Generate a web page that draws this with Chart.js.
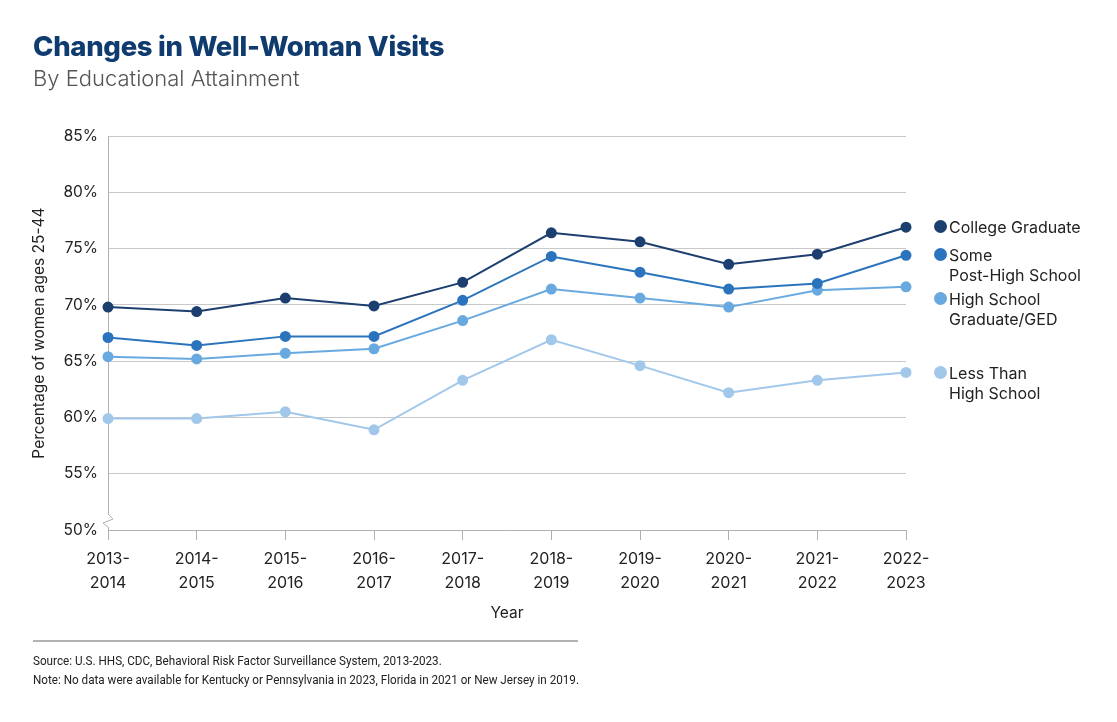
<!DOCTYPE html>
<html>
<head>
<meta charset="utf-8">
<script src="https://cdn.jsdelivr.net/npm/chart.js@4.4.1/dist/chart.umd.min.js"></script>
<style>
  body { margin: 0; background: #fff; font-family: Inter, "Noto Sans", sans-serif; }
  #wrap { position: relative; width: 1117px; height: 722px; overflow: hidden; }
  #chart { position: absolute; left: 0; top: 0; }
  .title { position: absolute; left: 33px; top: 29px; font-size: 27.5px; font-weight: 800; color: #0f3b6f; letter-spacing: -0.3px; }
  .subtitle { position: absolute; left: 33px; top: 65px; font-size: 22px; font-weight: 300; color: #555; }
  .legend { position: absolute; left: 934px; font-size: 16px; color: #222; line-height: 20px; }
  .legend .dot { position: absolute; left: 0; top: 3px; width: 13px; height: 13px; border-radius: 50%; }
  .legend .txt { margin-left: 15px; }
  .rule { position: absolute; left: 33px; top: 640px; width: 545px; height: 2px; background: #b3b3b3; }
  .note { position: absolute; left: 33px; font-family: Roboto, sans-serif; font-size: 13.5px; color: #222; white-space: nowrap;
          transform: scaleX(0.865); transform-origin: left center; }
</style>
</head>
<body>
<div id="wrap">
  <canvas id="chart" width="1117" height="722"></canvas>
  <div class="title">Changes in Well-Woman Visits</div>
  <div class="subtitle">By Educational Attainment</div>
  <div id="legend"></div>
  <div class="rule"></div>
  <div class="note" style="top:652px">Source: U.S. HHS, CDC, Behavioral Risk Factor Surveillance System, 2013-2023.</div>
  <div class="note" style="top:671px">Note: No data were available for Kentucky or Pennsylvania in 2023, Florida in 2021 or New Jersey in 2019.</div>
</div>
<script>
const years = ['2013-2014', '2014-2015', '2015-2016', '2016-2017', '2017-2018',
               '2018-2019', '2019-2020', '2020-2021', '2021-2022', '2022-2023']

const seriesNames = ['College Graduate', 'Some\nPost-High School', 'High School\nGraduate/GED', 'Less Than\nHigh School']
const seriesColors = ['#1c3f70', '#2b74bd', '#68a9df', '#a1c8eb']

const collegeGrad = [69.8, 69.4, 70.6, 69.9, 72.0, 76.4, 75.6, 73.6, 74.5, 76.9]
const somePostHS  = [67.1, 66.4, 67.2, 67.2, 70.4, 74.3, 72.9, 71.4, 71.9, 74.4]
const hsGrad      = [65.4, 65.2, 65.7, 66.1, 68.6, 71.4, 70.6, 69.8, 71.3, 71.6]
const lessThanHS  = [59.9, 59.9, 60.5, 58.9, 63.3, 66.9, 64.6, 62.2, 63.3, 64.0]

const yTicks = [50, 55, 60, 65, 70, 75, 80, 85]

// legend text top positions (first line), next to the line ends
const legendTops = [217, 245, 289, 363]

const allSeries = [collegeGrad, somePostHS, hsGrad, lessThanHS]

// axis break (zigzag) at bottom of the y axis
const axisBreak = {
    id: 'axisBreak',
    afterDraw(chart) {
        const ctx = chart.ctx
        const x = chart.scales.x.left
        const yb = chart.scales.y.getPixelForValue(50)
        ctx.save()
        ctx.fillStyle = '#fff'
        ctx.fillRect(x - 2, yb - 16, 4, 13)
        ctx.strokeStyle = '#b0b0b0'
        ctx.lineWidth = 1
        ctx.beginPath()
        ctx.moveTo(x, yb - 16)
        ctx.lineTo(x + 5, yb - 11)
        ctx.lineTo(x - 5, yb - 7)
        ctx.lineTo(x, yb - 3)
        ctx.stroke()
        ctx.restore()
    }
}

new Chart(document.getElementById('chart').getContext('2d'), {
    type: 'line',
    data: {
        labels: years.map(y => [y.split('-')[0] + '-', y.split('-')[1]]),
        datasets: allSeries.map((vals, i) => ({
            label: seriesNames[i],
            data: vals,
            borderColor: seriesColors[i],
            backgroundColor: seriesColors[i],
            borderWidth: 2,
            pointRadius: 4.5,
            pointHoverRadius: 4.5,
            tension: 0,
            clip: false,
            order: i
        }))
    },
    options: {
        responsive: false,
        animation: false,
        devicePixelRatio: 1,
        layout: { padding: { left: 0, right: 211, top: 136, bottom: 92 } },
        plugins: { legend: { display: false }, tooltip: { enabled: false } },
        scales: {
            x: {
                offset: false,
                grid: { drawOnChartArea: false, drawTicks: true, tickLength: 10, color: '#b0b0b0' },
                border: { color: '#b0b0b0', width: 1 },
                ticks: { color: '#222', font: { family: 'Inter', size: 16, lineHeight: 1.45 }, maxRotation: 0, padding: 8 },
                title: { display: true, text: 'Year', color: '#222', font: { family: 'Inter', size: 15.5 }, padding: { top: 4, bottom: 7 } },
                afterFit(scale) { scale.height = 100 }
            },
            y: {
                min: yTicks[0],
                max: yTicks[yTicks.length - 1],
                afterBuildTicks(scale) { scale.ticks = yTicks.map(v => ({ value: v })) },
                grid: { color: '#c8c8c8', drawTicks: false },
                border: { color: '#b0b0b0', width: 1 },
                ticks: { color: '#222', font: { family: 'Inter', size: 15.5 }, padding: 10, callback: v => v + '%' },
                title: { display: true, text: 'Percentage of women ages 25-44', color: '#222', font: { family: 'Inter', size: 15.5 }, padding: { top: 30, bottom: 4 } },
                afterFit(scale) { scale.width = 108 }
            }
        }
    },
    plugins: [axisBreak]
})

// legend
const legendDiv = document.getElementById('legend')
seriesNames.forEach((name, i) => {
    const item = document.createElement('div')
    item.className = 'legend'
    item.style.top = legendTops[i] + 'px'
    item.innerHTML = '<span class="dot" style="background:' + seriesColors[i] + '"></span>' +
        '<div class="txt">' + name.split('\n').join('<br>') + '</div>'
    legendDiv.appendChild(item)
})
</script>
</body>
</html>
